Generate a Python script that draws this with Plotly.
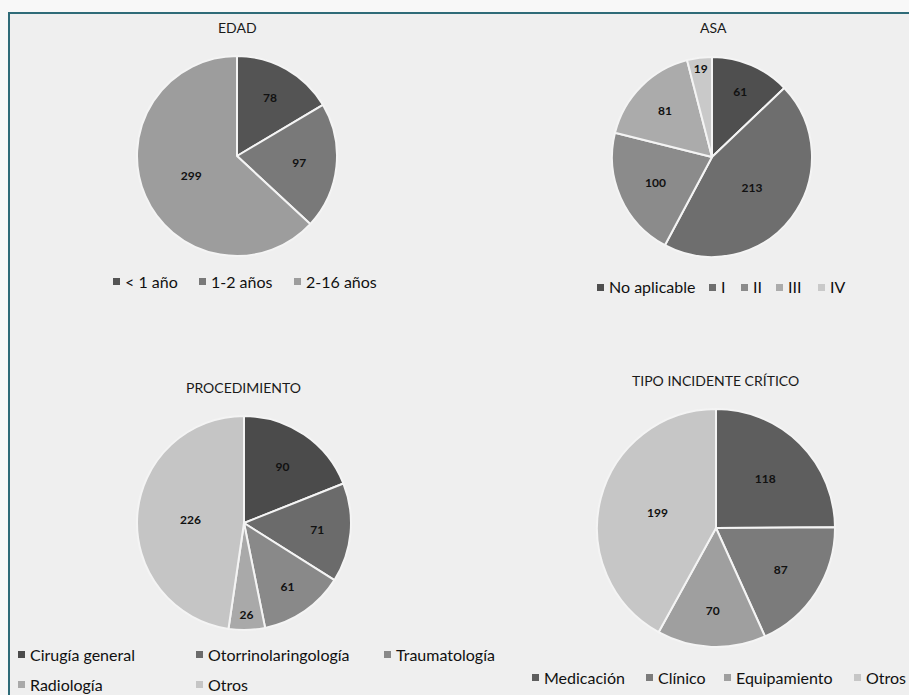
import plotly.graph_objects as go

# ---- data ----
edad_labels = ["< 1 año", "1-2 años", "2-16 años"]
edad_values = [78, 97, 299]

asa_labels = ["No aplicable", "I", "II", "III", "IV"]
asa_values = [61, 213, 100, 81, 19]

proc_labels = ["Cirugía general", "Otorrinolaringología", "Traumatología", "Radiología", "Otros"]
proc_values = [90, 71, 61, 26, 226]

tipo_labels = ["Medicación", "Clínico", "Equipamiento", "Otros"]
tipo_values = [118, 87, 70, 199]

titles = ["EDAD", "ASA", "PROCEDIMIENTO", "TIPO INCIDENTE CRÍTICO"]

# ---- styling ----
W, H = 909, 695
FONT = "Lato, 'Open Sans', sans-serif"

edad_colors = ["#545454", "#797979", "#9d9d9d"]
asa_colors = ["#4f4f4f", "#6e6e6e", "#8b8b8b", "#ababab", "#c9c9c9"]
proc_colors = ["#4b4b4b", "#6b6b6b", "#898989", "#a9a9a9", "#c5c5c5"]
tipo_colors = ["#5e5e5e", "#7b7b7b", "#9f9f9f", "#c6c6c6"]


def px(x):
    return x / W


def py(y):
    return 1 - y / H


# panel geometry in pixels: pie centre, radius, title position, legend entries
panels = [
    dict(labels=edad_labels, values=edad_values, colors=edad_colors, title=titles[0],
         cx=237, cy=156, r=100, tx=237, ty=27,
         legend=[(113, 281), (199, 281), (294, 281)]),
    dict(labels=asa_labels, values=asa_values, colors=asa_colors, title=titles[1],
         cx=712, cy=157, r=100, tx=713, ty=27,
         legend=[(597, 287), (709, 287), (741, 287), (776, 287), (818, 287)]),
    dict(labels=proc_labels, values=proc_values, colors=proc_colors, title=titles[2],
         cx=244, cy=523, r=107, tx=243, ty=387,
         legend=[(18, 654), (196, 654), (384, 654), (18, 684), (196, 684)]),
    dict(labels=tipo_labels, values=tipo_values, colors=tipo_colors, title=titles[3],
         cx=716, cy=528, r=119, tx=715, ty=380,
         legend=[(532, 677), (646, 677), (724, 677), (854, 677)]),
]

fig = go.Figure()
annotations = []
shapes = [
    # framed panel background
    dict(type="rect", xref="paper", yref="paper", x0=px(9), x1=1.02, y0=-0.02, y1=py(13),
         fillcolor="#efefef", line=dict(color="#2f6b78", width=2), layer="below"),
]

for p in panels:
    fig.add_trace(go.Pie(
        labels=p["labels"], values=p["values"],
        marker=dict(colors=p["colors"], line=dict(color="#f4f4f4", width=2)),
        sort=False, direction="clockwise", rotation=0,
        texttemplate="%{value}", textinfo="value",
        textposition="inside", insidetextorientation="horizontal",
        textfont=dict(family=FONT, size=12, color="#111111", weight="bold"),
        domain=dict(x=[px(p["cx"] - p["r"]), px(p["cx"] + p["r"])],
                    y=[py(p["cy"] + p["r"]), py(p["cy"] - p["r"])]),
        showlegend=False, hoverinfo="label+value+percent",
    ))
    annotations.append(dict(
        text=p["title"], x=px(p["tx"]), y=py(p["ty"]), xref="paper", yref="paper",
        xanchor="center", yanchor="middle", showarrow=False,
        font=dict(family=FONT, size=14, color="#1a1a1a"),
    ))
    # legend: small square swatch followed by the category name
    for lab, col, (lx, ly) in zip(p["labels"], p["colors"], p["legend"]):
        shapes.append(dict(type="rect", xref="paper", yref="paper",
                           x0=px(lx), x1=px(lx + 7), y0=py(ly + 4), y1=py(ly - 3),
                           fillcolor=col, line=dict(width=0)))
        annotations.append(dict(
            text=lab, x=px(lx + 10), y=py(ly), xref="paper", yref="paper",
            xanchor="left", yanchor="middle", showarrow=False,
            font=dict(family=FONT, size=16, color="#111111"),
        ))

fig.update_layout(
    width=W, height=H,
    margin=dict(l=0, r=0, t=0, b=0),
    paper_bgcolor="#f8f8f8",
    plot_bgcolor="#efefef",
    annotations=annotations,
    shapes=shapes,
)

fig.write_html("out.html")
